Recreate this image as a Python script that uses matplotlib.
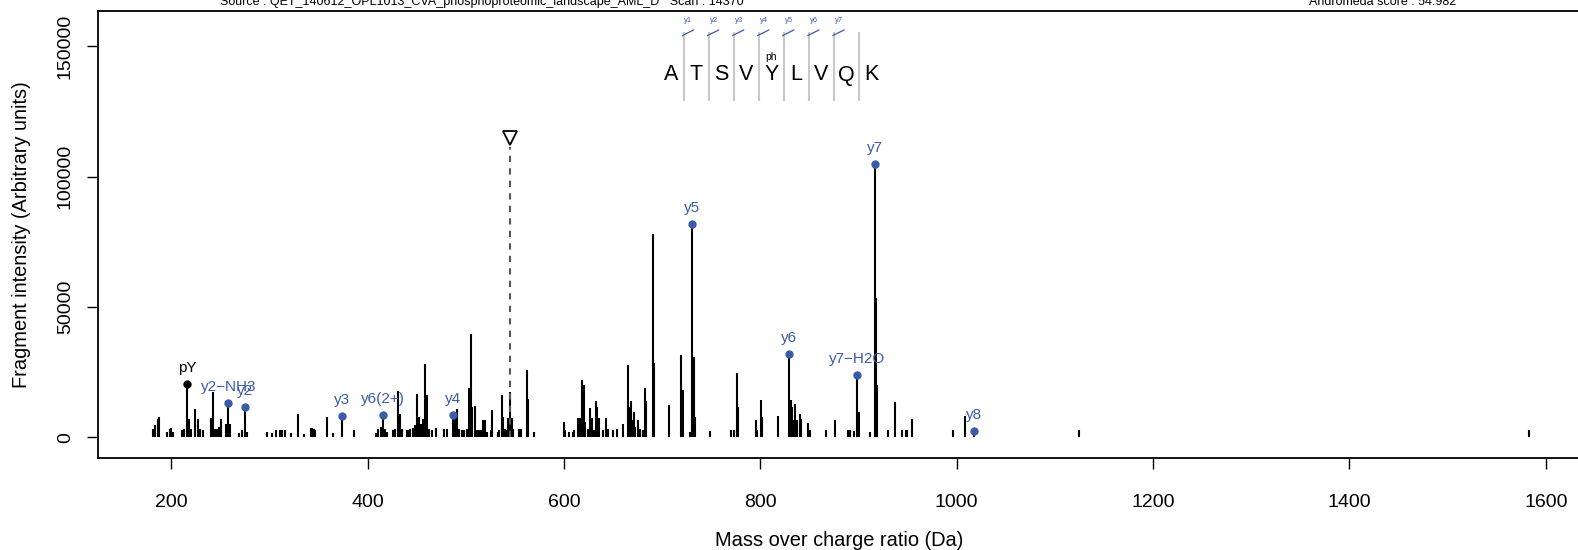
import matplotlib
matplotlib.use("Agg")
import matplotlib.pyplot as plt
from matplotlib.lines import Line2D

plt.rcParams['font.family'] = ['Liberation Sans', 'DejaVu Sans']

# unannotated fragment peaks (m/z, intensity)
peak_mz = [181.3, 183.7, 186.1, 187.8, 195.6, 198.3, 200.0, 201.4, 210.9, 213.3,
           218.4, 220.1, 224.6, 227.0, 229.0, 232.4, 240.6, 242.9, 245.0, 246.7,
           248.4, 250.8, 255.9, 260.3, 269.5, 272.2, 277.3, 297.8, 302.2, 306.3,
           310.7, 313.1, 315.5, 322.3, 329.1, 335.2, 342.0, 343.8, 345.5, 346.8,
           358.4, 365.2, 386.3, 408.5, 410.9, 413.6, 418.0, 419.7, 425.5, 427.9,
           430.6, 433.0, 435.0, 439.8, 441.5, 443.6, 445.9, 448.3, 450.4, 452.1,
           454.5, 456.8, 458.9, 460.6, 463.0, 465.4, 469.8, 478.3, 481.0, 489.0,
           491.0, 493.4, 495.8, 498.5, 501.2, 503.5,
           505.1, 506.8, 509.2, 511.2, 513.6, 515.3, 517.7, 519.4, 521.1, 525.5,
           527.2, 532.3, 534.0, 536.4, 538.1, 540.1, 541.8, 543.5, 544.9, 546.6,
           548.3, 553.7, 556.1, 561.9, 562.9, 569.7, 599.6, 601.0, 604.7, 608.8,
           610.5, 614.6, 616.3, 618.4, 620.1, 621.8, 624.1, 626.5, 628.2, 630.3,
           632.7, 633.7, 636.1, 639.5, 642.9, 644.6, 649.7, 653.7, 659.9, 665.0,
           666.7, 668.4, 670.1, 671.1, 672.8, 675.2, 677.6, 680.3, 682.7, 684.0,
           690.5, 691.8,
           706.8, 719.4, 720.8, 728.5, 732.0, 733.2, 748.3, 770.4, 773.4, 776.2,
           777.4, 795.9, 797.0, 801.0, 802.0, 818.0, 830.8, 832.2, 833.6, 835.7,
           837.0, 840.8, 841.9, 848.6, 850.4, 866.7, 875.8, 889.5, 891.1, 895.6,
           900.0, 911.5, 918.1, 919.1, 929.6, 937.1, 944.6, 948.0, 949.7, 954.1,
           995.9, 1008.5, 1124.5, 1583.0]
peak_int = [3200, 4500, 6800, 7700, 1900, 3200, 3500, 1900, 2600, 3200,
            7000, 3200, 10900, 7000, 3200, 2600, 7300, 17300, 3200, 3200,
            3800, 7000, 5100, 5100, 1700, 2600, 1900, 1900, 1700, 2600,
            2900, 2900, 2600, 1700, 9000, 1300, 3600, 3500, 3200, 2600,
            7700, 1700, 2600, 1700, 3200, 3800, 3200, 1900, 2900, 3200,
            17900, 9000, 3200, 2600, 2800, 3200, 3500, 4500, 16600, 7700,
            5100, 7000, 28000, 16000, 3200, 2600, 3500, 3200, 3200, 9000,
            10900, 3200, 2900, 2800, 3200, 19000,
            39700, 11500, 11800, 2600, 2900, 2900, 6700, 6700, 2000, 2900,
            10500, 2000, 2900, 16000, 7700, 3300, 2700, 7200, 17300, 7200,
            3300, 3300, 3300, 25600, 14700, 2000, 5900, 2700, 2000, 2000,
            2700, 7400, 7200, 21800, 20200, 5900, 3300, 11000, 7200, 2900,
            13900, 11500, 7200, 2700, 7400, 3300, 2700, 3300, 5200, 27600,
            11400, 14000, 6700, 9700, 3800, 6400, 3300, 2700, 19000, 14000,
            77800, 28500,
            12300, 31500, 18000, 2100, 30900, 7700, 2400, 2700, 2700, 24700,
            11700, 6500, 2700, 14200, 7700, 8300, 14200, 11700, 6500, 12700,
            6500, 8700, 7100, 5400, 2700, 2700, 6500, 2700, 2700, 2300,
            9700, 2100, 53500, 19900, 2700, 13500, 2700, 2900, 2900, 6800,
            2600, 8000, 2600, 2600]

# annotated ions
ion_labels = ['pY', 'y2\u2212NH3', 'y2', 'y3', 'y6(2+)', 'y4', 'y5', 'y6', 'y7\u2212H2O', 'y7', 'y8']
ion_mz = [216.04, 258.14, 275.17, 374.24, 415.21, 487.32, 730.35, 829.42, 898.44, 916.45, 1017.50]
ion_int = [20500, 13000, 11500, 8000, 8400, 8400, 81700, 31800, 23900, 105000, 2500]
ion_is_immonium = [True, False, False, False, False, False, False, False, False, False, False]

precursor_mz = 544.77
precursor_int = 114700

sequence = list("ATSVYLVQK")
mod_pos = 4
mod_label = "ph"
frag_labels = ['y1', 'y2', 'y3', 'y4', 'y5', 'y6', 'y7']

source_text = "Source : QET_140612_OPL1013_CVA_phosphoproteomic_landscape_AML_D   Scan : 14370"
score_text = "Andromeda score : 54.982"

W, H = 1578, 550
blue = '#3A5BAA'

fig = plt.figure(figsize=(W / 100, H / 100), dpi=100)
ax = fig.add_axes([97.6 / W, 1 - 458 / H, 1.002 - 97.6 / W, (458 - 10.5) / H])

ax.vlines(peak_mz, 0, peak_int, color='black', lw=1.5)
ax.vlines(ion_mz, 0, ion_int, color='black', lw=1.5)
for lab, mz, inten, imm in zip(ion_labels, ion_mz, ion_int, ion_is_immonium):
    c = 'black' if imm else blue
    ax.plot(mz, inten, 'o', color=c, ms=5)
    ax.annotate(lab, (mz, inten), xytext=(0, 11.5), textcoords='offset points',
                ha='center', va='center', color=c, fontsize=11)

ax.plot([precursor_mz, precursor_mz], [0, precursor_int - 3500], color='#555555',
        lw=1.5, ls=(0, (3, 3)))
ax.plot(precursor_mz, precursor_int, 'v', mfc='white', mec='black', mew=1.3, ms=10)

ax.set_xlim(125, 1636)
ax.set_ylim(-8000, 163750)
ax.set_xticks([200, 400, 600, 800, 1000, 1200, 1400, 1600])
ax.set_yticks([0, 50000, 100000, 150000])
ax.set_yticklabels(['0', '50000', '100000', '150000'], rotation=90, va='center')
ax.tick_params(axis='both', direction='out', length=8, width=1, labelsize=14, color='black')
ax.tick_params(axis='x', pad=18)
ax.tick_params(axis='y', pad=9)
for s in ax.spines.values():
    s.set_linewidth(1.3)
ax.set_xlabel('Mass over charge ratio (Da)', fontsize=14.4, labelpad=14)
ax.set_ylabel('Fragment intensity (Arbitrary units)', fontsize=14.4, labelpad=19)


def fx(x):
    return x / W


def fy(y):
    return 1 - y / H


# peptide sequence with fragment marks
x0, step = 671, 25.07
for i, aa in enumerate(sequence):
    fig.text(fx(x0 + i * step), fy(75), aa, ha='center', va='center', fontsize=15.5)
fig.text(fx(x0 + mod_pos * step), fy(57), mod_label, ha='center', va='center', fontsize=7.5)
for i in range(len(sequence) - 1):
    lx = x0 + (i + 0.5) * step
    fig.add_artist(Line2D([fx(lx), fx(lx)], [fy(33), fy(100)], color='#C8C8C8', lw=1.5,
                          transform=fig.transFigure))
    if i < len(frag_labels):
        fig.add_artist(Line2D([fx(lx - 1), fx(lx + 10)], [fy(35.5), fy(30)], color=blue,
                              lw=0.9, transform=fig.transFigure))
        fig.text(fx(lx + 5), fy(20.5), frag_labels[i], ha='center', va='center',
                 fontsize=5.5, color=blue)

fig.text(fx(220), fy(5), source_text, ha='left', va='baseline', fontsize=9)
fig.text(fx(1383), fy(5), score_text, ha='center', va='baseline', fontsize=9)

fig.savefig('out.png', dpi=100)
